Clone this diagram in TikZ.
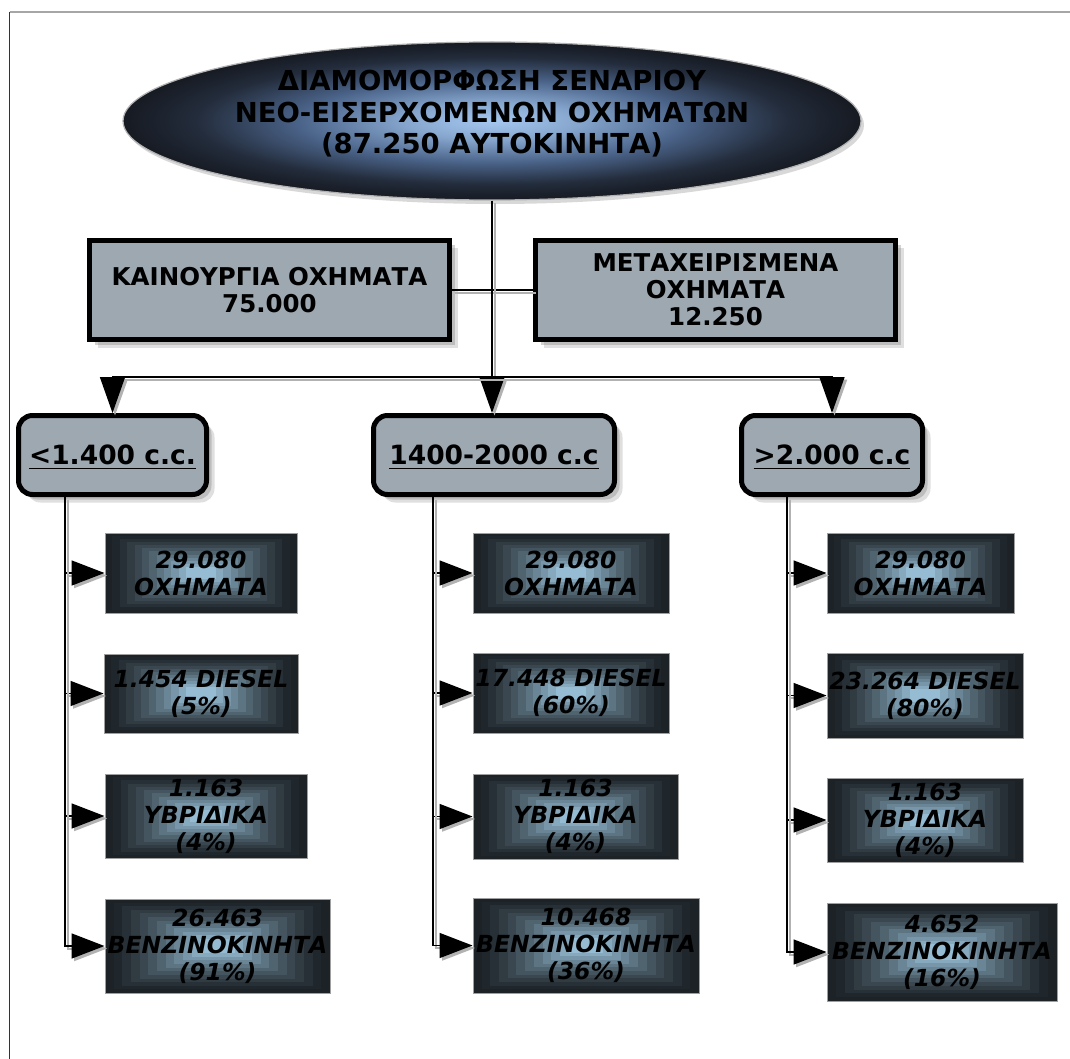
\documentclass[tikz,border=0pt]{standalone}
\usepackage{fontspec}
\setmainfont{DejaVu Sans}[BoldFont={DejaVu Sans Bold},ItalicFont={DejaVu Sans Oblique},BoldItalicFont={DejaVu Sans Bold Oblique}]
\usetikzlibrary{shapes.geometric,arrows.meta,shadows,calc}
\definecolor{boxgray}{RGB}{157,168,177}
\definecolor{leafout}{RGB}{28,34,38}
\definecolor{leafin}{RGB}{150,188,212}
\definecolor{ellin}{RGB}{165,200,240}
\definecolor{ellmid}{RGB}{75,100,138}
\definecolor{ellout}{RGB}{22,26,34}
\pgfdeclareradialshading{ellshade}{\pgfpoint{0bp}{0bp}}{color(0bp)=(ellin); color(6bp)=(ellin!65!ellmid); color(13bp)=(ellmid); color(20bp)=(ellout!75!ellmid); color(25bp)=(ellout); color(50bp)=(ellout)}
\newcommand\myul[1]{\setbox0\hbox{#1}\rlap{\smash{\rule[-4.5pt]{\wd0}{1.6pt}}}\box0}
\newcommand\ellfont{\fontsize{27.5}{31.5}\selectfont\bfseries}
\newcommand\boxfont{\fontsize{24.5}{27}\selectfont\bfseries}
\newcommand\catfont{\fontsize{26.5}{30}\selectfont\bfseries}
\newcommand\leaffont{\fontsize{23.5}{27}\selectfont\bfseries\itshape}
\tikzset{
  conn/.style={line width=1.6pt, draw=black,
    preaction={draw=gray!60, line width=2pt, transform canvas={shift={(2.5pt,-2.5pt)}}}},
  tipd/.style={-{Triangle[length=36pt,width=25pt]}},
  tipr/.style={-{Triangle[length=33pt,width=25pt]}},
  ell/.style={ellipse, minimum width=738pt, minimum height=158pt, inner sep=0pt,
    shading=ellshade, draw=gray!60, line width=1.2pt,
    drop shadow={opacity=.3, shadow xshift=3pt, shadow yshift=-4pt}},
  gbox/.style={rectangle, draw=black, line width=5pt, fill=boxgray, inner sep=0pt,
    align=center, font=\boxfont, minimum width=360pt, minimum height=99pt,
    drop shadow={opacity=.25, shadow xshift=8pt, shadow yshift=-8pt},
    drop shadow={opacity=.35, shadow xshift=5pt, shadow yshift=-5pt}},
  cat/.style={rectangle, rounded corners=14pt, draw=black, line width=5pt, fill=boxgray,
    inner sep=0pt, align=center, font=\catfont, minimum height=79pt,
    drop shadow={opacity=.25, shadow xshift=8pt, shadow yshift=-8pt},
    drop shadow={opacity=.35, shadow xshift=5pt, shadow yshift=-5pt}},
  leaf/.style={rectangle, draw=gray!75, line width=1pt, inner sep=0pt, align=center,
    font=\leaffont,
    path picture={
      \foreach \i in {0,...,11}{
        \pgfmathsetmacro\pct{100*(\i/11)^1.4}
        \fill[leafin!\pct!leafout]
          ($(path picture bounding box.south west)!{\i/26}!(path picture bounding box.north east)$)
          rectangle
          ($(path picture bounding box.north east)!{\i/26}!(path picture bounding box.south west)$);
      }
    }},
}
\begin{document}
\begin{tikzpicture}[x=1pt,y=-1pt]
\useasboundingbox (0,0) rectangle (1070,1059);
\fill[white] (0,0) rectangle (1070,1059);
% frame
\draw[gray!70, line width=1.5pt] (9.5,12) -- (1070,12);
\draw[black!80, line width=1pt] (9.5,12) -- (9.5,1059);

% top ellipse
\node[ell] (ell) at (492,121) {};
\node[font=\ellfont, align=center, inner sep=0pt] (elltext) at (492,114)
  {ΔΙΑΜΟΜΟΡΦΩΣΗ ΣΕΝΑΡΙΟΥ\\ΝΕΟ-ΕΙΣΕΡΧΟΜΕΝΩΝ ΟΧΗΜΑΤΩΝ\\(87.250 ΑΥΤΟΚΙΝΗΤΑ)};

% two boxes
\node[gbox] (b1) at (269.5,290) {ΚΑΙΝΟΥΡΓΙΑ ΟΧΗΜΑΤΑ\\75.000};
\node[gbox] (b2) at (715.5,290) {ΜΕΤΑΧΕΙΡΙΣΜΕΝΑ\\ΟΧΗΜΑΤΑ\\12.250};

% category boxes
\node[cat, minimum width=188pt] (c1) at (112.5,455) {\myul{<1.400 c.c.}};
\node[cat, minimum width=241pt] (c2) at (494,455) {\myul{1400-2000 c.c}};
\node[cat, minimum width=181pt] (c3) at (832,455) {\myul{>2.000 c.c}};

% leaf boxes
\node[leaf, minimum width=192pt, minimum height=80pt] (l11) at (201,573) {29.080\\ΟΧΗΜΑΤΑ};
\node[leaf, minimum width=194pt, minimum height=79pt] (l12) at (201,693.5) {1.454 DIESEL\\(5\%)};
\node[leaf, minimum width=202pt, minimum height=84pt] (l13) at (206,816) {1.163\\ΥΒΡΙΔΙΚΑ\\(4\%)};
\node[leaf, minimum width=225pt, minimum height=94pt] (l14) at (217.5,946) {26.463\\ΒΕΝΖΙΝΟΚΙΝΗΤΑ\\(91\%)};

\node[leaf, minimum width=196pt, minimum height=80pt] (l21) at (571,573) {29.080\\ΟΧΗΜΑΤΑ};
\node[leaf, minimum width=196pt, minimum height=80pt] (l22) at (571,693) {17.448 DIESEL\\(60\%)};
\node[leaf, minimum width=205pt, minimum height=85pt] (l23) at (575.5,816.5) {1.163\\ΥΒΡΙΔΙΚΑ\\(4\%)};
\node[leaf, minimum width=226pt, minimum height=95pt] (l24) at (586,945.5) {10.468\\ΒΕΝΖΙΝΟΚΙΝΗΤΑ\\(36\%)};

\node[leaf, minimum width=187pt, minimum height=80pt] (l31) at (920.5,573) {29.080\\ΟΧΗΜΑΤΑ};
\node[leaf, minimum width=196pt, minimum height=85pt] (l32) at (925,695.5) {23.264 DIESEL\\(80\%)};
\node[leaf, minimum width=196pt, minimum height=84pt] (l33) at (925,820) {1.163\\ΥΒΡΙΔΙΚΑ\\(4\%)};
\node[leaf, minimum width=230pt, minimum height=98pt] (l34) at (942,952) {4.652\\ΒΕΝΖΙΝΟΚΙΝΗΤΑ\\(16\%)};

% connectors
\coordinate (bar) at (492,377);
\coordinate (t1) at (65,0);
\coordinate (t2) at (433,0);
\coordinate (t3) at (787,0);
\draw[conn] (b1.east) -- (b2.west);
\draw[conn, tipd] (ell.south) -- (c2.north -| ell.south);
\draw[conn, tipd] (bar) -| (c1.north);
\draw[conn, tipd] (bar) -| (c3.north);

\foreach \c/\t in {1/t1,2/t2,3/t3}{
  \foreach \r in {1,2,3,4}{
    \draw[conn, tipr] (c\c.south -| \t) |- (l\c\r.west);
  }
}
\end{tikzpicture}
\end{document}
